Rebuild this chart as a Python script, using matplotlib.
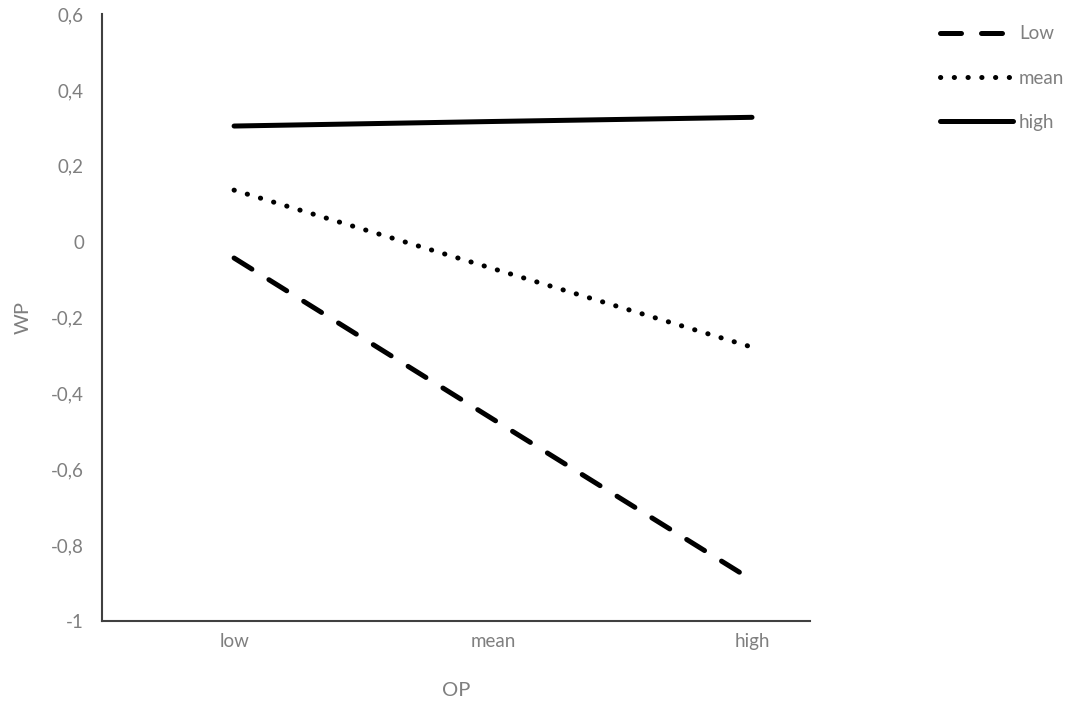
import matplotlib.pyplot as plt
from matplotlib.ticker import FuncFormatter

plt.rcParams['font.family'] = ['Lato', 'DejaVu Sans']

# Data
categories = ['low', 'mean', 'high']
low_vals = [-0.043, -0.468, -0.892]
mean_vals = [0.136, -0.071, -0.278]
high_vals = [0.305, 0.317, 0.328]

grey = '#7f7f7f'

fig = plt.figure(figsize=(10.76, 7.04), dpi=100)
ax = fig.add_axes([0.0948, 0.1179, 0.658, 0.862])

x = range(len(categories))
lw = 3.6
ax.plot(x, low_vals, color='black', lw=lw, linestyle=(0, (4.2, 4.0)),
        dash_capstyle='round', label='Low')
ax.plot(x, mean_vals, color='black', lw=lw, linestyle=(0, (0.05, 2.7)),
        dash_capstyle='round', label='mean')
ax.plot(x, high_vals, color='black', lw=lw, solid_capstyle='round', label='high')

ax.set_ylim(-1, 0.6)
ax.set_yticks([-1, -0.8, -0.6, -0.4, -0.2, 0, 0.2, 0.4, 0.6])
ax.yaxis.set_major_formatter(FuncFormatter(
    lambda v, p: ('%g' % round(v, 1)).replace('.', ',')))
ax.set_xlim(-0.51, 2.224)
ax.set_xticks(list(x))
ax.set_xticklabels(categories)

for s in ['top', 'right']:
    ax.spines[s].set_visible(False)
for s in ['left', 'bottom']:
    ax.spines[s].set_color('#404040')
    ax.spines[s].set_linewidth(1.5)

ax.tick_params(length=0, labelsize=13.5, labelcolor=grey, pad=9)
ax.tick_params(axis='y', pad=13)
ax.set_xlabel('OP', fontsize=14.5, color=grey, labelpad=23)
ax.set_ylabel('WP', fontsize=14.5, color=grey, labelpad=14)

leg = fig.legend(loc='upper left', bbox_to_anchor=(0.858, 0.988), frameon=False,
                 fontsize=13.5, handlelength=3.9, handletextpad=0.3,
                 labelspacing=1.45, labelcolor=grey)

fig.savefig('out.png', dpi=100)
